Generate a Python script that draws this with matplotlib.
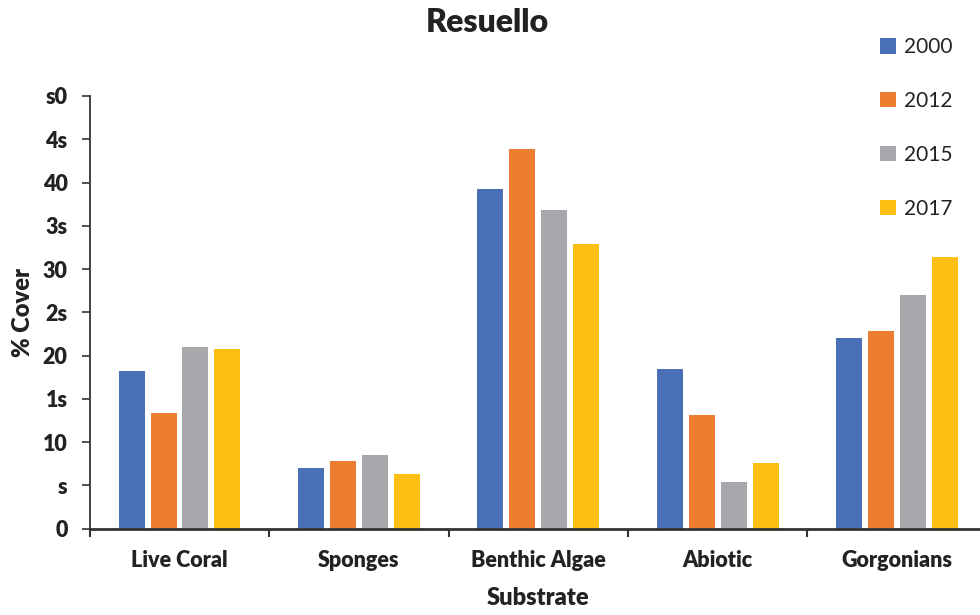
import matplotlib
matplotlib.use("Agg")
import matplotlib.pyplot as plt
import numpy as np

categories = ["Live Coral", "Sponges", "Benthic Algae", "Abiotic", "Gorgonians"]
years = ["2000", "2012", "2015", "2017"]
v2000 = [18.2, 7.0, 39.3, 18.4, 22.0]
v2012 = [13.4, 7.8, 43.9, 13.1, 22.9]
v2015 = [21.0, 8.5, 36.8, 5.4, 27.0]
v2017 = [20.8, 6.3, 32.9, 7.6, 31.4]
ytick_vals = [0, 5, 10, 15, 20, 25, 30, 35, 40, 45, 50]
ytick_labels = ["0", "s", "10", "1s", "20", "2s", "30", "3s", "40", "4s", "s0"]

colors = ["#4A71B8", "#ED7D31", "#A7A8AB", "#FDC012"]
series = [v2000, v2012, v2015, v2017]

plt.rcParams['font.family'] = ['Lato', 'DejaVu Sans']
BW = 'heavy'

fig = plt.figure(figsize=(9.8, 6.15), dpi=100)
W, H = 980, 615
left_px, right_px = 89.8, 986.7
bot_px, top_px = 528.7, 96.0
ax = fig.add_axes([left_px / W, 1 - bot_px / H, (right_px - left_px) / W, (bot_px - top_px) / H])

x = np.arange(len(categories))
step = 0.178
bw = 0.145
for i, (vals, c, yr) in enumerate(zip(series, colors, years)):
    ax.bar(x + (i - 1.5) * step, vals, width=bw, color=c, label=yr, zorder=2)

ax.set_xlim(-0.5, len(categories) - 0.5)
ax.set_ylim(0, 50)
ax.set_yticks(ytick_vals)
ax.set_yticklabels(ytick_labels, fontsize=15.5, fontweight=BW, color='#222222')

ax.set_xticks(np.arange(len(categories) + 1) - 0.5)
ax.set_xticklabels([])
ax.set_xticks(x, minor=True)
ax.set_xticklabels(categories, minor=True, fontsize=15.5, fontweight=BW, color='#222222')
ax.tick_params(axis='x', which='minor', length=0, pad=15)
ax.tick_params(axis='x', which='major', length=6, width=1.5, color='#333333', direction='out')
ax.tick_params(axis='y', length=6, width=1.2, color='#333333', direction='out', pad=10)

for s in ['top', 'right']:
    ax.spines[s].set_visible(False)
ax.spines['left'].set_color('#333333')
ax.spines['left'].set_linewidth(1.3)
ax.spines['bottom'].set_color('#333333')
ax.spines['bottom'].set_linewidth(2)

ax.set_ylabel("% Cover", fontsize=17, fontweight=BW, color='#222222', labelpad=6)
fig.text(538 / W, 1 - 598 / H, "Substrate", ha='center', va='center', fontsize=17, fontweight=BW, color='#222222')
fig.text(487 / W, 1 - 22 / H, "Resuello", ha='center', va='center', fontsize=23, fontweight=BW, color='#222222')

leg = fig.legend(loc='upper left', bbox_to_anchor=(872 / W, 1 - 29 / H), frameon=False,
                 fontsize=15, labelspacing=1.62, handlelength=0.75, handleheight=0.75,
                 handletextpad=0.4, borderaxespad=0)
for t in leg.get_texts():
    t.set_color('#222222')

fig.savefig("out.png", dpi=100)
